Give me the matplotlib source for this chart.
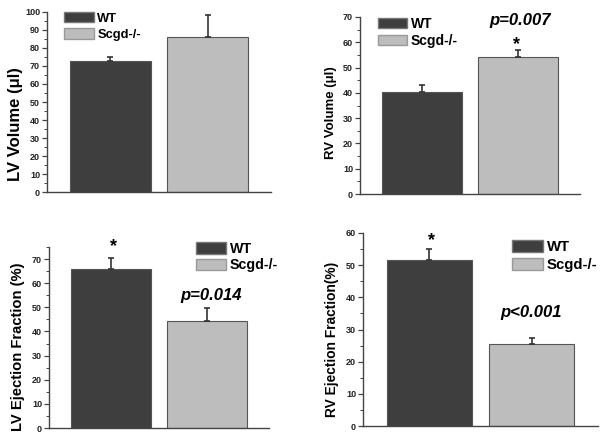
import matplotlib
matplotlib.use("Agg")
import matplotlib.pyplot as plt
from matplotlib.patches import Patch
from matplotlib.ticker import MultipleLocator

plt.rcParams['font.family'] = ['Liberation Sans', 'DejaVu Sans']
plt.rcParams['font.weight'] = 'bold'

# data
groups = ["WT", "Scgd-/-"]
lv_vol = [72.5, 86.3]
lv_vol_err = [2.5, 12.2]
rv_vol = [40.3, 54.3]
rv_vol_err = [2.9, 2.7]
lv_ef = [65.8, 44.3]
lv_ef_err = [4.7, 5.4]
rv_ef = [51.5, 25.4]
rv_ef_err = [3.5, 2.0]

dark = "#3e3e3e"
light = "#bdbdbd"
edge = "#555555"

fig = plt.figure(figsize=(6.01, 4.32), dpi=100)
W, H = 601, 432


def make_ax(x0, x1, ybot, ytop):
    return fig.add_axes([x0 / W, (H - ybot) / H, (x1 - x0) / W, (ybot - ytop) / H])


def panel(ax, vals, errs, ymax, ystep, ylabel, lab_fs, lab_xy, leg_xy, leg_fs, leg_ls,
          patch_w, patch_h):
    x = [0, 1]
    ax.bar(x, vals, width=0.83, color=[dark, light], edgecolor=edge, linewidth=0.8, zorder=2)
    ax.errorbar(x, vals, yerr=[[0, 0], errs], fmt="none", ecolor="#333333",
                elinewidth=1.2, capsize=2.5, capthick=1.2, zorder=3)
    ax.set_xlim(-0.65, 1.65)
    ax.set_ylim(0, ymax)
    ax.yaxis.set_major_locator(MultipleLocator(ystep))
    ax.yaxis.set_minor_locator(MultipleLocator(ystep / 2))
    for s in ["top", "right"]:
        ax.spines[s].set_visible(False)
    for s in ["left", "bottom"]:
        ax.spines[s].set_color("#444444")
        ax.spines[s].set_linewidth(1.0)
    ax.set_xticks([])
    ax.tick_params(axis="y", which="major", length=3.5, width=0.9, color="#444444",
                   labelsize=6.5, pad=1.5, labelcolor="#222222")
    ax.tick_params(axis="y", which="minor", length=2, width=0.7, color="#444444")
    ax.set_ylabel(ylabel, fontsize=lab_fs, fontweight="bold")
    ax.yaxis.set_label_coords(*lab_xy)
    handles = [Patch(facecolor=dark, edgecolor="#777777"),
               Patch(facecolor=light, edgecolor="#999999")]
    em = leg_fs * 100 / 72
    ax.legend(handles, groups, loc="upper left", bbox_to_anchor=leg_xy, frameon=False,
              borderpad=0, borderaxespad=0, handlelength=patch_w / em,
              handleheight=patch_h / em, handletextpad=0.25, labelspacing=leg_ls,
              prop={"weight": "bold", "size": leg_fs})


ax1 = make_ax(47, 271, 192, 12)
panel(ax1, lv_vol, lv_vol_err, 100, 10, "LV Volume (\u03bcl)", 12, (-0.107, 0.38),
      (0.076, 1.0), 9.3, 0.28, 30, 11)

ax2 = make_ax(360, 580, 194, 17)
panel(ax2, rv_vol, rv_vol_err, 70, 10, "RV Volume (\u03bcl)", 9.5, (-0.105, 0.46),
      (0.082, 1.0), 10, 0.19, 29, 11)
ax2.text(1.02, 68.5, "p=0.007", ha="center", va="center", fontsize=12,
         fontweight="bold", style="italic")
ax2.text(0.99, 59.0, "*", ha="center", va="center", fontsize=13, fontweight="bold")

ax3 = make_ax(49, 269, 428, 247)
panel(ax3, lv_ef, lv_ef_err, 75, 10, "LV Ejection Fraction (%)", 10.6, (-0.109, 0.45),
      (0.668, 1.028), 10.3, 0.16, 30, 12)
ax3.text(1.05, 55.1, "p=0.014", ha="center", va="center", fontsize=12,
         fontweight="bold", style="italic")
ax3.text(0.02, 75.3, "*", ha="center", va="center", fontsize=13, fontweight="bold",
         clip_on=False)

ax4 = make_ax(363, 598, 426, 233)
panel(ax4, rv_ef, rv_ef_err, 60, 10, "RV Ejection Fraction(%)", 9.9, (-0.102, 0.45),
      (0.634, 0.964), 10.7, 0.26, 31, 13)
ax4.text(1.0, 35.4, "p<0.001", ha="center", va="center", fontsize=12,
         fontweight="bold", style="italic")
ax4.text(0.025, 57.6, "*", ha="center", va="center", fontsize=13, fontweight="bold",
         clip_on=False)

fig.savefig("out.png", dpi=100)
